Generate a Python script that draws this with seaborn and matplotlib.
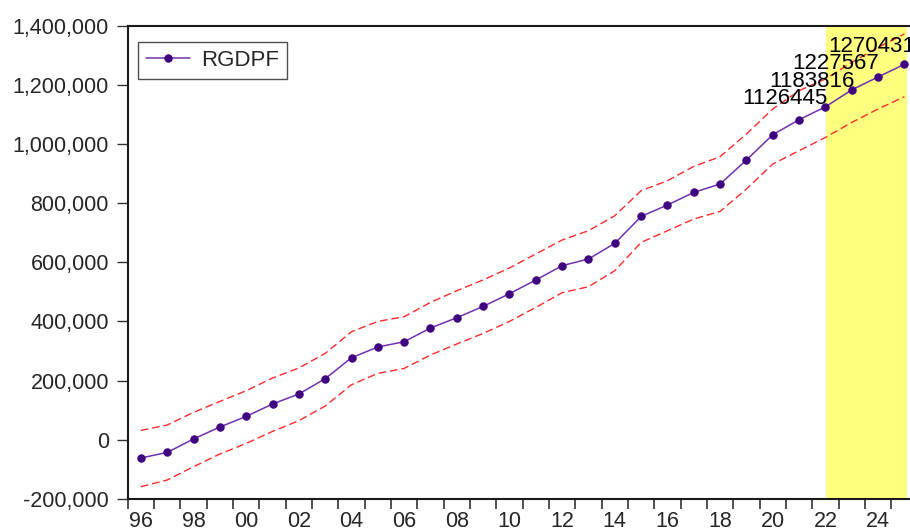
import numpy as np
import pandas as pd
import matplotlib
matplotlib.use("Agg")
import matplotlib.pyplot as plt
import seaborn as sns
from matplotlib.ticker import FuncFormatter, FixedLocator

years = list(range(1996, 2026))
rgdpf = [-62300, -43300, 2000, 42700, 78500, 120500, 154400, 206100, 277200, 313400,
         331400, 377800, 412600, 450900, 493900, 540300, 588700, 611400, 664100, 755500,
         794100, 836800, 865200, 946400, 1032100, 1082900, 1126445, 1183816, 1227567, 1270431]
upper = [31100, 49400, 92100, 129300, 165500, 208500, 242400, 291800, 365200, 400100,
         416000, 464400, 504000, 540600, 580900, 628300, 675700, 707100, 757900, 842500,
         876400, 924800, 957600, 1034500, 1119100, 1181000, 1220600, 1276800, 1327600, 1373000]
lower = [-159400, -136800, -91700, -48700, -12900, 27800, 64000, 113700, 185800, 224100,
         241000, 286400, 323600, 359500, 400100, 447500, 497300, 517600, 571700, 667500,
         707100, 746700, 772500, 848300, 932900, 977900, 1022900, 1073700, 1119100, 1160700]
label_years = [2022, 2023, 2024, 2025]
label_values = [1126445, 1183816, 1227567, 1270431]
yticks = [-200000, 0, 200000, 400000, 600000, 800000, 1000000, 1200000, 1400000]
xlabel_years = list(range(1996, 2026, 2))
shade_start, shade_end = 2022, 2025

df = pd.DataFrame({"year": years, "RGDPF": rgdpf, "upper": upper, "lower": lower})

sns.set_style("white")
plt.rcParams["font.family"] = ["Liberation Sans", "DejaVu Sans"]

fig = plt.figure(figsize=(9.10, 5.31), dpi=100)
ax = fig.add_axes([127.7 / 910, 32.3 / 531, (917.6 - 127.7) / 910, (498.7 - 26) / 531])

ax.axvspan(shade_start + 0.03, shade_end + 0.08, color="#ffff80", lw=0, zorder=0)

sns.lineplot(data=df, x="year", y="upper", ax=ax, color="#ff2a2a", lw=1.0,
             linestyle=(0, (5.5, 2.8)), legend=False, zorder=2)
sns.lineplot(data=df, x="year", y="lower", ax=ax, color="#ff2a2a", lw=1.0,
             linestyle=(0, (5.5, 2.8)), legend=False, zorder=2)
sns.lineplot(data=df, x="year", y="RGDPF", ax=ax, color="#7030b0", lw=1.1,
             marker="o", markersize=5.3, markerfacecolor="#3f0080",
             markeredgecolor="#3f0080", label="RGDPF", zorder=3)

offsets = [(2, 3), (3, 3), (1, 8), (11, 12)]
for yr, val, off in zip(label_years, label_values, offsets):
    ax.annotate(f"{val}", xy=(yr, val), xytext=off, textcoords="offset pixels",
                ha="right", va="baseline", fontsize=16, color="black", zorder=4)

ax.set_xlim(1995.5, 2025.5)
ax.set_ylim(-200000, 1400000)
ax.set_xlabel("")
ax.set_ylabel("")

ax.xaxis.set_major_locator(FixedLocator(np.arange(1995.5, 2026, 1.0)))
ax.xaxis.set_minor_locator(FixedLocator(xlabel_years))
ax.xaxis.set_major_formatter(FuncFormatter(lambda v, p: ""))
ax.xaxis.set_minor_formatter(FuncFormatter(lambda v, p: f"{int(round(v)) % 100:02d}"))
ax.tick_params(axis="x", which="major", direction="out", length=7, width=1.2,
               color="#333333", bottom=True)
ax.tick_params(axis="x", which="minor", length=0, pad=9.0, labelsize=15.5, bottom=True)

ax.set_yticks(yticks)
ax.yaxis.set_major_formatter(FuncFormatter(lambda v, p: f"{int(v):,}"))
ax.tick_params(axis="y", direction="out", length=8, width=1.0, color="#333333",
               pad=5.5, labelsize=15.5, left=True)

for s in ["left", "bottom", "top"]:
    ax.spines[s].set_visible(True)
    ax.spines[s].set_color("#1a1a1a")
    ax.spines[s].set_linewidth(1.5)
ax.spines["right"].set_visible(False)

leg = ax.legend(loc="upper left", bbox_to_anchor=(10.3 / 790, 1 - 16 / 472.7),
                borderaxespad=0, fontsize=16, frameon=True, fancybox=False,
                handlelength=2.0, handletextpad=0.5, borderpad=0.35)
leg.get_frame().set_edgecolor("#222222")
leg.get_frame().set_linewidth(1.0)

fig.savefig("out.png", dpi=100)
